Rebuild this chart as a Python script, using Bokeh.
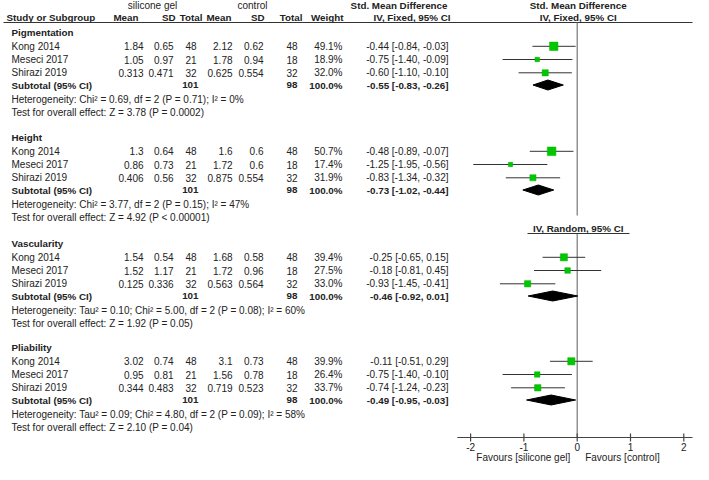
from bokeh.plotting import figure
from bokeh.models import Range1d
from bokeh.core.properties import value
from bokeh.embed import file_html
from bokeh.resources import INLINE

# ---------------- data ----------------
groups = ["Pigmentation", "Height", "Vascularity", "Pliability"]
studies = ["Kong 2014", "Meseci 2017", "Shirazi 2019"]
sg_mean = [[1.84, 1.05, 0.313], [1.3, 0.86, 0.406], [1.54, 1.52, 0.125], [3.02, 0.95, 0.344]]
sg_sd = [[0.65, 0.97, 0.471], [0.64, 0.73, 0.56], [0.54, 1.17, 0.336], [0.74, 0.81, 0.483]]
sg_n = [48, 21, 32]
ct_mean = [[2.12, 1.78, 0.625], [1.6, 1.72, 0.875], [1.68, 1.72, 0.563], [3.1, 1.56, 0.719]]
ct_sd = [[0.62, 0.94, 0.554], [0.6, 0.6, 0.554], [0.58, 0.96, 0.564], [0.73, 0.78, 0.523]]
ct_n = [48, 18, 32]
weights = [[49.1, 18.9, 32.0], [50.7, 17.4, 31.9], [39.4, 27.5, 33.0], [39.9, 26.4, 33.7]]
smd = [[-0.44, -0.75, -0.60], [-0.48, -1.25, -0.83], [-0.25, -0.18, -0.93], [-0.11, -0.75, -0.74]]
ci_lo = [[-0.84, -1.40, -1.10], [-0.89, -1.95, -1.34], [-0.65, -0.81, -1.45], [-0.51, -1.40, -1.24]]
ci_hi = [[-0.03, -0.09, -0.10], [-0.07, -0.56, -0.32], [0.15, 0.45, -0.41], [0.29, -0.10, -0.23]]
sub_total_sg = 101
sub_total_ct = 98
sub_smd = [-0.55, -0.73, -0.46, -0.49]
sub_lo = [-0.83, -1.02, -0.92, -0.95]
sub_hi = [-0.26, -0.44, 0.01, -0.03]
heterogeneity = [
    "Heterogeneity: Chi\u00b2 = 0.69, df = 2 (P = 0.71); I\u00b2 = 0%",
    "Heterogeneity: Chi\u00b2 = 3.77, df = 2 (P = 0.15); I\u00b2 = 47%",
    "Heterogeneity: Tau\u00b2 = 0.10; Chi\u00b2 = 5.00, df = 2 (P = 0.08); I\u00b2 = 60%",
    "Heterogeneity: Tau\u00b2 = 0.09; Chi\u00b2 = 4.80, df = 2 (P = 0.09); I\u00b2 = 58%",
]
overall = [
    "Test for overall effect: Z = 3.78 (P = 0.0002)",
    "Test for overall effect: Z = 4.92 (P < 0.00001)",
    "Test for overall effect: Z = 1.92 (P = 0.05)",
    "Test for overall effect: Z = 2.10 (P = 0.04)",
]
col_headers = ["Mean", "SD", "Total", "Mean", "SD", "Total", "Weight"]
ticks = [-2, -1, 0, 1, 2]
tick_labels = ["-2", "-1", "0", "1", "2"]
favours_left = "Favours [silicone gel]"
favours_right = "Favours [control]"

# ---------------- layout (pixel coordinates) ----------------
W, H = 693, 464
ZERO_PX, PX_PER_UNIT = 576.7, 53.3
X_STUDY, X_HDR_STUDY = 11, 6
COL_R = [143, 173, 196, 232, 263, 297, 342]
HDR_R = [138, 175, 202, 231, 264, 302, 343]
SUBTOT_R = [198, 297]
X_EFFECT_R = 448
GROUP_Y = [32, 137, 243, 347]
STUDY_OFF = [13.8, 27.0, 40.3]
SUB_OFF, HET_OFF, TEST_OFF = 52.5, 67.0, 79.7
Y_HDR1, Y_HDR2, Y_RULE = 5, 17, 22
Y_AXIS = 437
FONT = value("Liberation Sans")
FS = "10px"
FSB = "9.8px"
TXT = "#222222"

p = figure(width=W, height=H, output_backend="svg", toolbar_location=None,
           x_range=Range1d(0, W), y_range=Range1d(H, 0), min_border=0,
           x_axis_type=None, y_axis_type=None, outline_line_color=None,
           background_fill_color="white", border_fill_color="white")
p.grid.visible = False
p.extra_x_ranges = {"smd": Range1d((0 - ZERO_PX) / PX_PER_UNIT, (W - ZERO_PX) / PX_PER_UNIT)}

texts = {}  # (align, bold) -> dict lists


def add(x, y, t, align="left", bold=False):
    d = texts.setdefault((align, bold), {"x": [], "y": [], "t": []})
    d["x"].append(x)
    d["y"].append(y)
    d["t"].append(t)


# headers
add(152, Y_HDR1, "silicone gel", "center")
add(252, Y_HDR1, "control", "center")
add(447, Y_HDR1, "Std. Mean Difference", "right", True)
add(X_HDR_STUDY, Y_HDR2, "Study or Subgroup", "left", True)
for h, xr in zip(col_headers, HDR_R):
    add(xr, Y_HDR2, h, "right", True)
add(450, Y_HDR2, "IV, Fixed, 95% CI", "right", True)

# rows
rows_y = []
for g, gy in enumerate(GROUP_Y):
    add(X_STUDY, gy, groups[g], "left", True)
    for s in range(3):
        y = gy + STUDY_OFF[s]
        rows_y.append(y)
        vals = [str(sg_mean[g][s]), str(sg_sd[g][s]), str(sg_n[s]),
                str(ct_mean[g][s]), str(ct_sd[g][s]), str(ct_n[s]),
                f"{weights[g][s]:.1f}%"]
        add(X_STUDY, y, studies[s])
        for v, xr in zip(vals, COL_R):
            add(xr, y, v, "right")
        add(X_EFFECT_R, y, f"{smd[g][s]:.2f} [{ci_lo[g][s]:.2f}, {ci_hi[g][s]:.2f}]", "right")
    ys = gy + SUB_OFF
    add(X_STUDY, ys, "Subtotal (95% CI)", "left", True)
    add(SUBTOT_R[0], ys, str(sub_total_sg), "right", True)
    add(SUBTOT_R[1], ys, str(sub_total_ct), "right", True)
    add(COL_R[6], ys, "100.0%", "right", True)
    add(X_EFFECT_R, ys, f"{sub_smd[g]:.2f} [{sub_lo[g]:.2f}, {sub_hi[g]:.2f}]", "right", True)
    add(X_STUDY, gy + HET_OFF, heterogeneity[g])
    add(X_STUDY, gy + TEST_OFF, overall[g])

for (align, bold), d in texts.items():
    p.text(x=d["x"], y=d["y"], text=d["t"], text_align=align, text_baseline="middle",
           text_font=FONT, text_font_size=FSB if bold else FS, text_color=TXT,
           text_font_style="bold" if bold else "normal")

# header rule
p.segment(x0=[3], x1=[W - 1], y0=[Y_RULE], y1=[Y_RULE], line_color="#333333", line_width=1.2)

# null-effect line (broken around the random-effects header)
Y_RAND = 228
p.segment(x0=[0, 0], x1=[0, 0], y0=[Y_RULE, 233], y1=[215, Y_AXIS],
          x_range_name="smd", line_color="#777777", line_width=1.2)
p.text(x=[0], y=[Y_RAND], text=["IV, Random, 95% CI"], x_range_name="smd",
       text_align="center", text_baseline="middle", text_font=FONT, text_font_size=FSB,
       text_font_style="bold", text_color=TXT, x_offset=1)
p.segment(x0=[527], x1=[629], y0=[233], y1=[233], line_color="#333333", line_width=1.2)

# right panel headers
p.text(x=[0, 0], y=[Y_HDR1, Y_HDR2], text=["Std. Mean Difference", "IV, Fixed, 95% CI"],
       x_range_name="smd", text_align="center", text_baseline="middle", text_font=FONT,
       text_font_size=FSB, text_font_style="bold", text_color=TXT, x_offset=1)

# study CIs and markers
flat_est, flat_lo, flat_hi, flat_w = [], [], [], []
for g in range(4):
    for s in range(3):
        flat_est.append(smd[g][s])
        flat_lo.append(ci_lo[g][s])
        flat_hi.append(ci_hi[g][s])
        flat_w.append(weights[g][s])
p.segment(x0=flat_lo, x1=flat_hi, y0=rows_y, y1=rows_y, x_range_name="smd",
          line_color="#333333", line_width=1)
p.scatter(x=flat_est, y=rows_y, size=[2 + 0.13 * w for w in flat_w], marker="square",
          x_range_name="smd", fill_color="#00c800", line_color="#00b000", line_width=0.5)

# diamonds
dx, dy = [], []
for g, gy in enumerate(GROUP_Y):
    yc = gy + SUB_OFF
    dx.append([sub_lo[g], sub_smd[g], sub_hi[g], sub_smd[g]])
    dy.append([yc, yc - 5, yc, yc + 5])
p.patches(xs=dx, ys=dy, x_range_name="smd", fill_color="black", line_color="black")

# axis
p.segment(x0=[-2.25], x1=[(W - 1 - ZERO_PX) / PX_PER_UNIT], y0=[Y_AXIS], y1=[Y_AXIS],
          x_range_name="smd", line_color="#444444", line_width=1.2)
p.segment(x0=ticks, x1=ticks, y0=[Y_AXIS - 4] * len(ticks), y1=[Y_AXIS + 4] * len(ticks),
          x_range_name="smd", line_color="#444444", line_width=1.2)
p.text(x=ticks, y=[Y_AXIS + 9] * len(ticks), text=tick_labels, x_range_name="smd",
       text_align="center", text_baseline="middle", text_font=FONT, text_font_size=FS,
       text_color=TXT)
p.text(x=[0], y=[Y_AXIS + 19.5], text=[favours_left], x_range_name="smd", text_align="right",
       text_baseline="middle", text_font=FONT, text_font_size=FS, text_color=TXT, x_offset=-7)
p.text(x=[0], y=[Y_AXIS + 19.5], text=[favours_right], x_range_name="smd", text_align="left",
       text_baseline="middle", text_font=FONT, text_font_size=FS, text_color=TXT, x_offset=8)

open("out.html", "w").write(file_html(p, INLINE))
